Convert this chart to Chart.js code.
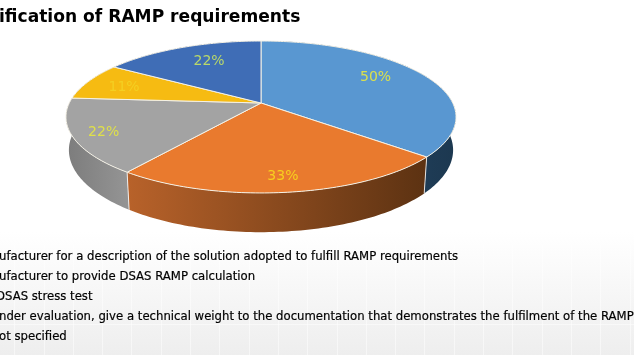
<!DOCTYPE html>
<html>
<head>
<meta charset="utf-8">
<title>RAMP requirements</title>
<script src="https://cdn.jsdelivr.net/npm/chart.js@4"></script>
<style>
  html, body { margin: 0; padding: 0; background: #fff; overflow: hidden; }
  #wrap { position: relative; width: 634px; height: 360px; }
  #band { position: absolute; left: 0; top: 232px; width: 634px; height: 123px;
          background: linear-gradient(#ffffff, #eeeeee); }
  /* faint white grid in the backdrop */
  #grid { position: absolute; left: 0; top: 245px; width: 634px; height: 110px;
          background-image:
            repeating-linear-gradient(90deg, transparent 0, transparent 14.3px, rgba(255,255,255,0.5) 14.3px, rgba(255,255,255,0.5) 15.3px, transparent 15.3px, transparent 29.3px),
            linear-gradient(transparent 79px, rgba(255,255,255,0.5) 79px, rgba(255,255,255,0.5) 80px, transparent 80px); }
  #chart { position: absolute; left: 0; top: 0; }
</style>
</head>
<body>
<div id="wrap">
  <div id="band"></div>
  <div id="grid"></div>
  <canvas id="chart" width="634" height="360"></canvas>
</div>
<script>
// the picture is cropped on both sides, so text is kept as far as it can be read
const titleText = 'ification of RAMP requirements';
const categories = [
  'ufacturer for a description of the solution adopted to fulfill RAMP requirements',
  'ufacturer to provide DSAS RAMP calculation',
  'DSAS stress test',
  'nder evaluation, give a technical weight to the documentation that demonstrates the fulfilment of the RAMP',
  'ot specified'
];
// values go clockwise from the top of the pie
const sliceValues = [50, 33, 22, 11, 22];
const topColors = ['#5997d1', '#e97a2e', '#a3a3a3', '#f6bb12', '#3f6db6'];
const wallColors = [
  ['#2b4f72', '#1c3850'],
  ['#b8622a', '#5c3212'],
  ['#7c7c7c', '#949494'],
  ['#8a6a00', '#8a6a00'],
  ['#2a4476', '#2a4476']
];
const labelColors = ['#dbe04e', '#f7cf1e', '#dfe04a', '#f4cf22', '#b9d86a'];
const labelRadius = [0.7, 0.85, 0.85, 0.78, 0.7];
const labelNudgeX = [-1, 0, 1, -1, 6];
const labelNudgeY = [-5, 0, 1, 2, -1];

// perspective of the tilted pie
const cx = 261, cy = 103, ax = 191.7, ay = 73.4, k = 0.184, depth = 32;

function project(angle, r, drop) {
  const u = Math.cos(angle) * r, v = Math.sin(angle) * r;
  const w = 1 - k * v;
  const shrink = drop ? 0.985 : 1;
  return { x: cx + ax * u / w * shrink, y: cy + ay * v / w + (drop ? depth / w : 0) };
}

function rimPoints(a0, a1, drop) {
  const pts = [];
  const steps = Math.max(2, Math.ceil((a1 - a0) / 0.02));
  for (let i = 0; i <= steps; i++) pts.push(project(a0 + (a1 - a0) * i / steps, 1, drop));
  return pts;
}

const pie3d = {
  id: 'pie3d',
  beforeDatasetsDraw(chart) {
    const c = chart.ctx;
    const arcs = chart.getDatasetMeta(0).data;

    // side walls first, the top face hides the back ones
    arcs.forEach((arc, i) => {
      const top = rimPoints(arc.startAngle, arc.endAngle, false);
      const bottom = rimPoints(arc.startAngle, arc.endAngle, true).reverse();
      const xs = top.map(p => p.x);
      const g = c.createLinearGradient(Math.min(...xs), 0, Math.max(...xs), 0);
      g.addColorStop(0, wallColors[i][0]);
      g.addColorStop(1, wallColors[i][1]);
      c.beginPath();
      top.concat(bottom).forEach((p, n) => n ? c.lineTo(p.x, p.y) : c.moveTo(p.x, p.y));
      c.closePath();
      c.fillStyle = g;
      c.fill();
    });

    // white seams where two slices meet on the front wall
    arcs.forEach(arc => {
      if (Math.sin(arc.endAngle) < 0.2) return;
      const a = project(arc.endAngle, 1, false), b = project(arc.endAngle, 1, true);
      c.beginPath();
      c.moveTo(a.x, a.y);
      c.lineTo(b.x, b.y);
      c.strokeStyle = 'rgba(255,255,255,0.8)';
      c.lineWidth = 1;
      c.stroke();
    });

    // top face
    arcs.forEach((arc, i) => {
      c.beginPath();
      c.moveTo(cx, cy);
      rimPoints(arc.startAngle, arc.endAngle, false).forEach(p => c.lineTo(p.x, p.y));
      c.closePath();
      c.fillStyle = topColors[i];
      c.fill();
      c.strokeStyle = '#f4f1e6';
      c.lineWidth = 1;
      c.stroke();
    });

    // value labels
    c.font = '14px "DejaVu Sans"';
    c.textAlign = 'center';
    c.textBaseline = 'middle';
    arcs.forEach((arc, i) => {
      const p = project((arc.startAngle + arc.endAngle) / 2, labelRadius[i], false);
      c.fillStyle = labelColors[i];
      c.fillText(sliceValues[i] + '%', p.x + labelNudgeX[i], p.y + labelNudgeY[i]);
    });
    return false;
  },
  afterDraw(chart) {
    const c = chart.ctx;
    c.textAlign = 'left';
    c.textBaseline = 'middle';
    c.fillStyle = '#000';
    c.font = 'bold 17.1px "DejaVu Sans"';
    c.fillText(titleText, -1, 18);
    c.font = '11.7px "DejaVu Sans"';
    c.strokeStyle = '#000';
    c.lineWidth = 0.2;
    const legendX = [-1, -1, -4, -1, -1];
    categories.forEach((t, i) => {
      c.fillText(t, legendX[i], 257 + i * 20);
      c.strokeText(t, legendX[i], 257 + i * 20);
    });
  }
};

new Chart(document.getElementById('chart'), {
  type: 'pie',
  data: {
    labels: categories,
    datasets: [{ data: sliceValues, backgroundColor: topColors }]
  },
  options: {
    responsive: false,
    animation: false,
    plugins: { legend: { display: false }, tooltip: { enabled: false } }
  },
  plugins: [pie3d]
});
</script>
</body>
</html>
